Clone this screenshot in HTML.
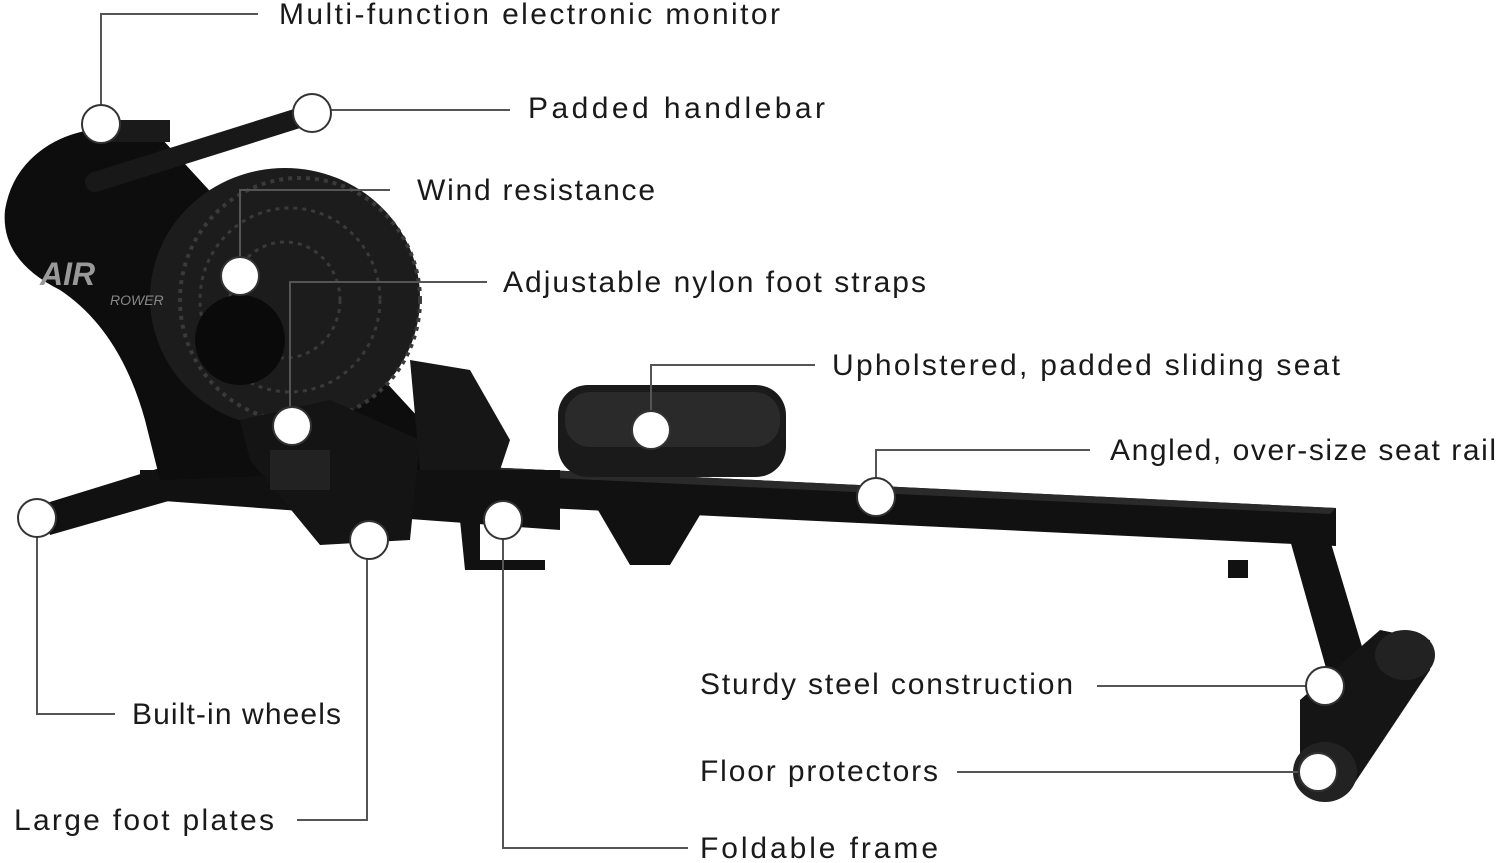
<!DOCTYPE html>
<html><head><meta charset="utf-8"><style>
html,body{margin:0;padding:0;background:#fff;}
svg{display:block}
text{font-family:"Liberation Sans",sans-serif;font-size:30px;fill:#1a1a1a;letter-spacing:2px}
</style></head><body>
<svg width="1500" height="863" viewBox="0 0 1500 863" xmlns="http://www.w3.org/2000/svg">
<!-- rail -->
<polygon points="380,462 1336,508 1336,546 380,500" fill="#111"/>
<polygon points="380,462 1336,508 1330,514 380,470" fill="#2a2a2a"/>
<!-- rear leg & foot -->
<polygon points="1290,540 1330,540 1375,690 1335,700" fill="#111"/>
<rect x="1228" y="560" width="20" height="18" fill="#111"/>
<polygon points="1300,700 1380,630 1430,640 1430,670 1350,790 1300,790" fill="#151515"/>
<ellipse cx="1405" cy="655" rx="30" ry="25" fill="#222"/>
<ellipse cx="1325" cy="772" rx="32" ry="30" fill="#222"/>
<!-- front stabilizer -->
<polygon points="40,505 160,468 172,500 50,535" fill="#111"/>
<rect x="140" y="470" width="30" height="30" fill="#111"/>
<!-- front frame -->
<polygon points="150,470 560,470 560,530 150,500" fill="#111"/>
<polygon points="595,505 700,515 670,565 630,565" fill="#111"/>
<polygon points="460,520 480,520 480,560 545,560 545,570 465,570" fill="#111"/>
<!-- housing -->
<path d="M30,160 Q60,130 110,128 L150,126 L430,430 L420,470 L160,480 L145,420 Q120,330 60,290 Q0,260 5,210 Q10,180 30,160 Z" fill="#0d0d0d"/>
<rect x="110" y="120" width="60" height="22" fill="#1a1a1a"/>
<!-- fan -->
<ellipse cx="285" cy="298" rx="135" ry="130" fill="#1c1c1c"/>
<ellipse cx="300" cy="300" rx="120" ry="122" fill="none" stroke="#3a3a3a" stroke-width="4" stroke-dasharray="4 5"/>
<ellipse cx="290" cy="300" rx="90" ry="92" fill="none" stroke="#3a3a3a" stroke-width="3" stroke-dasharray="4 5"/>
<ellipse cx="285" cy="300" rx="55" ry="58" fill="none" stroke="#3a3a3a" stroke-width="3" stroke-dasharray="4 5"/>
<ellipse cx="240" cy="340" rx="45" ry="45" fill="#0a0a0a"/>
<text x="40" y="285" style="font-size:32px;font-weight:bold;fill:#999;font-style:italic;letter-spacing:0">AIR</text>
<text x="110" y="305" style="font-size:14px;fill:#888;font-style:italic;letter-spacing:0">ROWER</text>
<!-- handlebar -->
<line x1="95" y1="182" x2="305" y2="116" stroke="#181818" stroke-width="20" stroke-linecap="round"/>
<!-- foot plates -->
<polygon points="240,420 330,400 420,440 410,540 320,545 250,460" fill="#141414"/>
<polygon points="410,360 470,370 510,440 500,470 420,470" fill="#161616"/>
<rect x="270" y="450" width="60" height="40" fill="#222"/>
<!-- seat -->
<rect x="558" y="385" width="228" height="92" rx="30" fill="#1a1a1a"/>
<rect x="565" y="392" width="215" height="55" rx="25" fill="#2a2a2a"/>
<!-- connectors -->
<g stroke="#555" stroke-width="2" fill="none">
<polyline points="258,14 101,14 101,124"/>
<line x1="312" y1="110" x2="510" y2="110"/>
<polyline points="390,190 240,190 240,276"/>
<polyline points="487,282 290,282 290,426"/>
<polyline points="815,365 651,365 651,430"/>
<polyline points="1090,450 876,450 876,497"/>
<line x1="1097" y1="686" x2="1325" y2="686"/>
<line x1="957" y1="772" x2="1318" y2="772"/>
<polyline points="37,518 37,714 115,714"/>
<polyline points="297,820 367,820 367,540"/>
<polyline points="503,520 503,848 688,848"/>
</g>
<g fill="#fff" stroke="#333" stroke-width="2">
<circle cx="101" cy="124" r="19"/>
<circle cx="312" cy="113" r="19"/>
<circle cx="240" cy="276" r="19"/>
<circle cx="292" cy="426" r="19"/>
<circle cx="651" cy="430" r="19"/>
<circle cx="876" cy="497" r="19"/>
<circle cx="1325" cy="686" r="19"/>
<circle cx="1318" cy="772" r="19"/>
<circle cx="37" cy="518" r="19"/>
<circle cx="369" cy="540" r="19"/>
<circle cx="503" cy="520" r="19"/>
</g>
<text x="279" y="24" textLength="503" lengthAdjust="spacing">Multi-function electronic monitor</text>
<text x="528" y="118" textLength="299" lengthAdjust="spacing">Padded handlebar</text>
<text x="417" y="200" textLength="240" lengthAdjust="spacing">Wind resistance</text>
<text x="503" y="292" textLength="425" lengthAdjust="spacing">Adjustable nylon foot straps</text>
<text x="832" y="375" textLength="510" lengthAdjust="spacing">Upholstered, padded sliding seat</text>
<text x="1110" y="460" textLength="388" lengthAdjust="spacing">Angled, over-size seat rail</text>
<text x="700" y="694" textLength="375" lengthAdjust="spacing">Sturdy steel construction</text>
<text x="700" y="781" textLength="240" lengthAdjust="spacing">Floor protectors</text>
<text x="132" y="724" textLength="211" lengthAdjust="spacing">Built-in wheels</text>
<text x="14" y="830" textLength="262" lengthAdjust="spacing">Large foot plates</text>
<text x="700" y="858" textLength="240" lengthAdjust="spacing">Foldable frame</text>
</svg>
</body></html>
